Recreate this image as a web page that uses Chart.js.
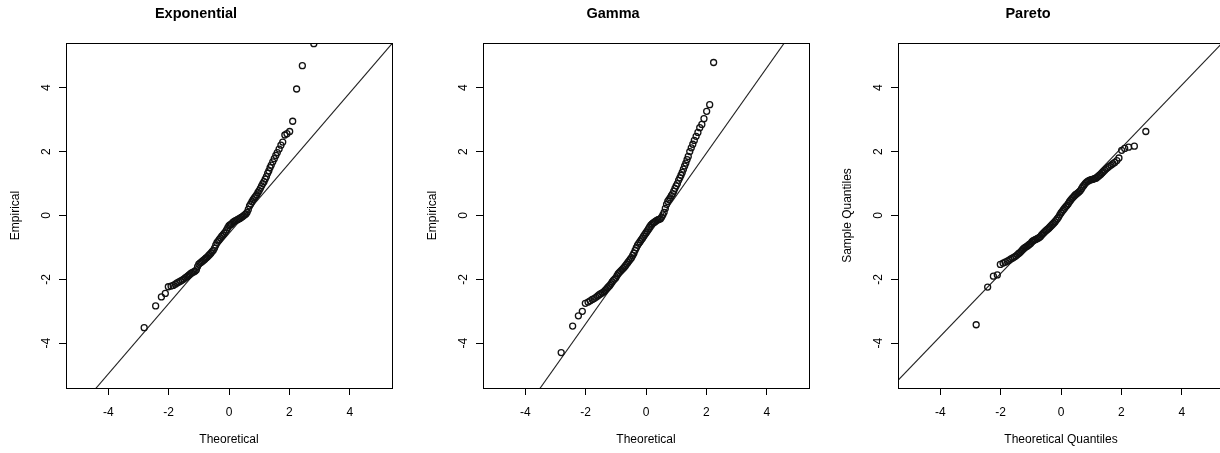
<!DOCTYPE html>
<html>
<head>
<meta charset="utf-8">
<title>QQ plots</title>
<script src="https://cdn.jsdelivr.net/npm/chart.js@4.4.0/dist/chart.umd.min.js"></script>
<style>
  html, body { margin: 0; padding: 0; background: #fff; }
  body { width: 1220px; height: 453px; overflow: hidden; position: relative; }
  .panel { position: absolute; top: 0; width: 420px; height: 453px; }
</style>
</head>
<body>
<div class="panel" style="left:0px"><canvas id="qq0" width="420" height="453"></canvas></div>
<div class="panel" style="left:417px"><canvas id="qq1" width="420" height="453"></canvas></div>
<div class="panel" style="left:832px"><canvas id="qq2" width="420" height="453"></canvas></div>
<script>
// theoretical normal quantiles (shared by the three panels)
const theoretical = [
  -2.81, -2.43, -2.24, -2.11, -2.01, -1.92, -1.85, -1.78, -1.72, -1.66,
  -1.60, -1.55, -1.50, -1.45, -1.40, -1.36, -1.32, -1.28, -1.24, -1.20,
  -1.16, -1.12, -1.08, -1.04, -1.00, -0.96, -0.92, -0.88, -0.84, -0.80,
  -0.76, -0.72, -0.68, -0.64, -0.60, -0.56, -0.52, -0.48, -0.44, -0.40,
  -0.36, -0.32, -0.28, -0.24, -0.20, -0.16, -0.12, -0.08, -0.04, 0.00,
  0.04, 0.08, 0.12, 0.16, 0.20, 0.24, 0.28, 0.32, 0.36, 0.40,
  0.44, 0.48, 0.52, 0.56, 0.60, 0.64, 0.68, 0.72, 0.76, 0.80,
  0.84, 0.88, 0.92, 0.96, 1.00, 1.04, 1.08, 1.12, 1.16, 1.20,
  1.24, 1.28, 1.32, 1.36, 1.40, 1.45, 1.50, 1.55, 1.60, 1.66,
  1.72, 1.78, 1.85, 1.92, 2.01, 2.11, 2.24, 2.43, 2.81
];

const expEmpirical = [
  -3.51, -2.83, -2.55, -2.44, -2.23, -2.21, -2.19, -2.15, -2.11, -2.08,
  -2.05, -2.02, -1.99, -1.95, -1.92, -1.89, -1.86, -1.83, -1.80, -1.78,
  -1.76, -1.74, -1.70, -1.60, -1.52, -1.49, -1.46, -1.43, -1.40, -1.37,
  -1.33, -1.30, -1.26, -1.22, -1.18, -1.13, -1.09, -1.02, -0.93, -0.85,
  -0.80, -0.75, -0.70, -0.65, -0.61, -0.56, -0.51, -0.45, -0.38, -0.32,
  -0.29, -0.27, -0.22, -0.19, -0.17, -0.15, -0.13, -0.11, -0.09, -0.06,
  -0.04, -0.01, 0.02, 0.05, 0.10, 0.19, 0.30, 0.36, 0.43, 0.50,
  0.55, 0.60, 0.65, 0.72, 0.78, 0.85, 0.93, 1.00, 1.06, 1.14,
  1.22, 1.32, 1.40, 1.50, 1.58, 1.68, 1.78, 1.88, 1.97, 2.08,
  2.20, 2.30, 2.52, 2.56, 2.63, 2.95, 3.96, 4.69, 5.38
];

// the two largest gamma values fall above the plot and are not visible
const gammaEmpirical = [
  -4.29, -3.46, -3.14, -3.00, -2.75, -2.71, -2.67, -2.63, -2.60, -2.56,
  -2.52, -2.48, -2.45, -2.42, -2.39, -2.35, -2.31, -2.27, -2.23, -2.19,
  -2.14, -2.08, -2.03, -1.99, -1.95, -1.88, -1.82, -1.78, -1.74, -1.70,
  -1.66, -1.62, -1.57, -1.52, -1.47, -1.42, -1.37, -1.32, -1.25, -1.18,
  -1.09, -1.01, -0.93, -0.87, -0.82, -0.76, -0.71, -0.65, -0.59, -0.54,
  -0.48, -0.42, -0.36, -0.30, -0.26, -0.23, -0.21, -0.18, -0.15, -0.13,
  -0.12, -0.10, -0.05, 0.02, 0.10, 0.22, 0.35, 0.44, 0.50, 0.55,
  0.62, 0.68, 0.76, 0.85, 0.93, 1.00, 1.10, 1.18, 1.26, 1.35,
  1.45, 1.55, 1.64, 1.75, 1.85, 2.00, 2.12, 2.23, 2.35, 2.48,
  2.60, 2.75, 2.85, 3.03, 3.26, 3.47, 4.79, null, null
];

const paretoSample = [
  -3.42, -2.24, -1.90, -1.86, -1.53, -1.49, -1.46, -1.43, -1.40, -1.36,
  -1.33, -1.30, -1.27, -1.23, -1.19, -1.16, -1.12, -1.08, -1.04, -1.01,
  -0.98, -0.96, -0.93, -0.90, -0.87, -0.82, -0.79, -0.77, -0.75, -0.73,
  -0.71, -0.69, -0.66, -0.61, -0.57, -0.53, -0.49, -0.46, -0.43, -0.40,
  -0.36, -0.32, -0.28, -0.24, -0.20, -0.15, -0.10, -0.05, 0.02, 0.08,
  0.13, 0.18, 0.23, 0.28, 0.32, 0.37, 0.43, 0.48, 0.53, 0.57,
  0.61, 0.65, 0.68, 0.71, 0.74, 0.78, 0.84, 0.90, 0.95, 1.00,
  1.04, 1.07, 1.09, 1.11, 1.12, 1.13, 1.14, 1.16, 1.17, 1.20,
  1.23, 1.26, 1.29, 1.33, 1.37, 1.42, 1.46, 1.50, 1.54, 1.58,
  1.62, 1.66, 1.72, 1.80, 2.04, 2.10, 2.14, 2.17, 2.63
];

// reference lines (intercept, slope)
const lineIntercepts = [-0.56, -0.72, 0.15];
const lineSlopes = [1.10, 1.336, 0.983];

const panelTitles = ['Exponential', 'Gamma', 'Pareto'];
const xTitles = ['Theoretical', 'Theoretical', 'Theoretical Quantiles'];
const yTitles = ['Empirical', 'Empirical', 'Sample Quantiles'];
const samples = [expEmpirical, gammaEmpirical, paretoSample];

const LIM = 5.4;

Chart.defaults.font.family = '"Liberation Sans", Arial, Helvetica, sans-serif';
Chart.defaults.color = '#000';

// box round the plot region, like R's box()
const frame = {
  id: 'frame',
  afterDatasetsDraw(chart) {
    const a = chart.chartArea, ctx = chart.ctx;
    ctx.save();
    ctx.strokeStyle = '#000';
    ctx.lineWidth = 1;
    ctx.strokeRect(Math.round(a.left) + 0.5, Math.round(a.top) + 0.5,
                   Math.round(a.right - a.left), Math.round(a.bottom - a.top));
    ctx.restore();
  }
};

function axis(title, isX) {
  return {
    type: 'linear',
    position: isX ? 'bottom' : 'left',
    min: -LIM,
    max: LIM,
    ticks: {
      stepSize: 2,
      includeBounds: false,
      font: { size: 12 },
      color: '#000',
      padding: isX ? 10 : 7,
      minRotation: isX ? 0 : 90,
      maxRotation: isX ? 0 : 90,
      crossAlign: isX ? 'near' : 'center'
    },
    grid: { drawOnChartArea: false, drawTicks: true, tickLength: 7, tickColor: '#000', color: '#000' },
    border: { display: true, color: '#000' },
    title: {
      display: true,
      text: title,
      font: { size: 12 },
      padding: isX ? { top: 0, bottom: 6 } : { top: 8, bottom: 0 }
    },
    afterFit: s => { if (isX) s.height = 65; else s.width = 66; }
  };
}

samples.forEach((sample, i) => {
  const pts = [];
  theoretical.forEach((x, k) => { if (sample[k] !== null) pts.push({ x: x, y: sample[k] }); });
  const b = lineIntercepts[i], m = lineSlopes[i];

  new Chart(document.getElementById('qq' + i), {
    type: 'scatter',
    data: {
      datasets: [{
        data: pts,
        pointStyle: 'circle',
        pointRadius: 3,
        pointBorderWidth: 1.3,
        borderColor: '#111',
        backgroundColor: 'rgba(0,0,0,0)',
        clip: 0
      }, {
        data: [{ x: -LIM, y: b - m * LIM }, { x: LIM, y: b + m * LIM }],
        showLine: true,
        borderColor: '#222',
        borderWidth: 1.1,
        pointRadius: 0,
        clip: 0
      }]
    },
    options: {
      responsive: false,
      animation: false,
      layout: { padding: { left: 0, right: 28, top: 0, bottom: 0 } },
      plugins: {
        legend: { display: false },
        tooltip: { enabled: false },
        title: {
          display: true,
          text: panelTitles[i],
          color: '#000',
          font: { size: 14.5, weight: 'bold' },
          padding: { top: 5, bottom: 20.6 }
        }
      },
      scales: {
        x: axis(xTitles[i], true),
        y: axis(yTitles[i], false)
      }
    },
    plugins: [frame]
  });
});
</script>
</body>
</html>
